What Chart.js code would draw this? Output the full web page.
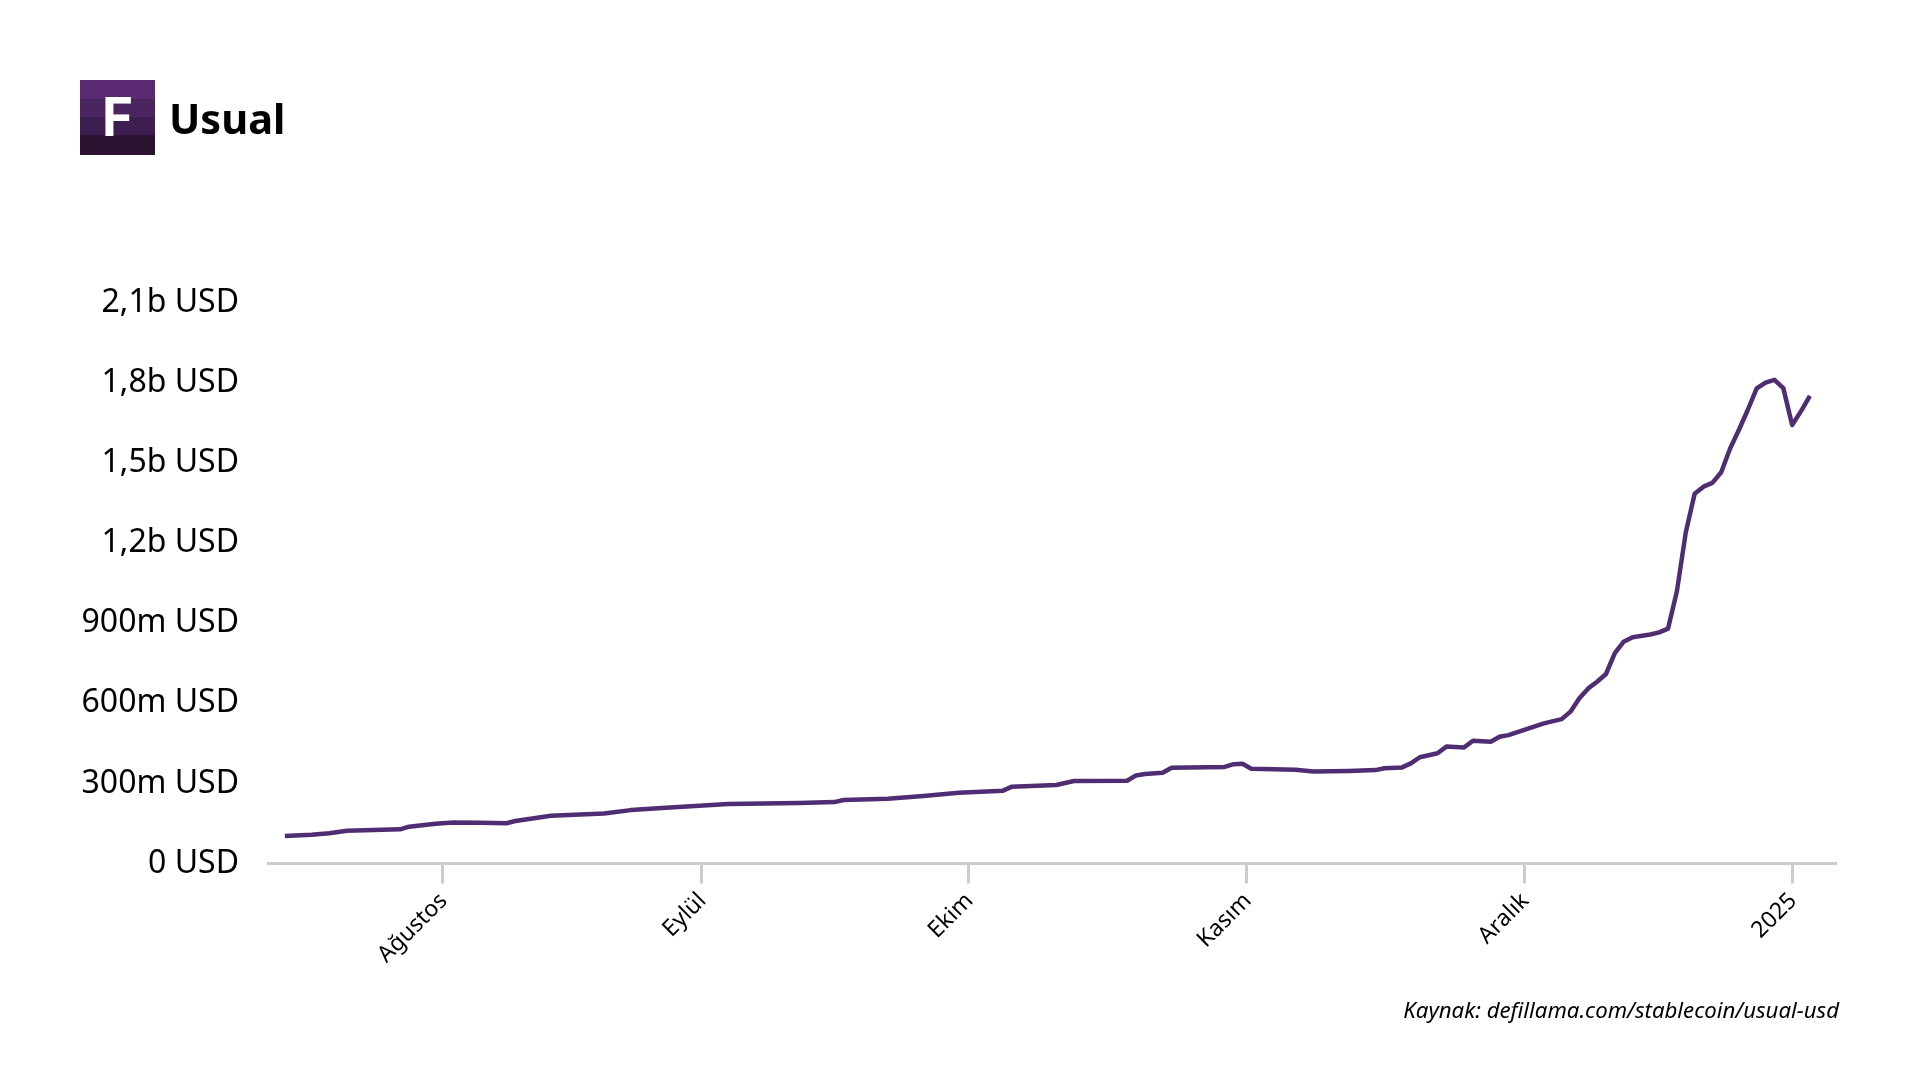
<!DOCTYPE html>
<html>
<head>
<meta charset="utf-8">
<script src="https://cdn.jsdelivr.net/npm/chart.js@4"></script>
<style>
  html, body { margin: 0; background: #fff; font-family: "Noto Sans", sans-serif; color: #000; }
  #wrap { position: relative; width: 1920px; height: 1080px; overflow: hidden; }
  #logo { position: absolute; left: 80px; top: 80px; width: 75px; height: 75px; color: #fff; font-family: Inter, sans-serif; font-weight: 700; font-size: 53px; line-height: 75px; text-align: center;
    background: linear-gradient(#5a2a73 0 25%, #4a2560 25% 49%, #3d1e50 49% 73%, #2d1332 73% 100%); }
  #title { position: absolute; left: 169px; top: 88px; font-size: 41.5px; font-weight: 700; line-height: 60px; }
  #source { position: absolute; right: 81px; top: 996px; font-size: 22.2px; font-style: italic; line-height: 28px; }
</style>
</head>
<body>
<div id="wrap">
  <canvas id="usual-chart" width="1920" height="1080" style="position:absolute;left:0;top:0"></canvas>
  <div id="logo">F</div>
  <div id="title">Usual</div>
  <div id="source">Kaynak: defillama.com/stablecoin/usual-usd</div>
</div>
<script>
// x position of each reading, in days from the first point
const days = [0,3,5,7,13,14,17,19,22,25,26,30,36,39,43,50,58,62,63,68,72,76,81,82,87,89,95,96,97,99,100,106,107,108,109,114,116,120,123,124,126,127,128,130,131,133,134,136,137,138,142,144,145,146,147,148,149,150,151,152,154,155,156,157,158,159,160,161,162,163,164,165,166,167,168,169,170,171,172]
// market cap in million USD
const usd_values = [103,108,113,123,128,138,149,154,153,151,159,179,187,200,209,223,227,230,238,243,253,265,273,288,294,309,310,330,335,340,359,362,372,374,355,351,345,347,350,357,360,375,398,413,438,435,460,456,475,481,525,541,569,619,656,681,710,788,831,848,858,866,880,1020,1240,1385,1412,1426,1466,1555,1625,1700,1780,1802,1812,1781,1643,1695,1752]

const tick_positions = [17.8,47,77.1,108.5,139.8,170]
const tick_labels = ["Ağustos","Eylül","Ekim","Kasım","Aralık","2025"]
const y_ticks = [0,300,600,900,1200,1500,1800,2100]
const y_labels = ["0 USD","300m USD","600m USD","900m USD","1,2b USD","1,5b USD","1,8b USD","2,1b USD"]

let points = []
for (let i = 0; i < days.length; i++) {
  points.push({x: days[i], y: usd_values[i]})
}

new Chart(document.getElementById("usual-chart"), {
  type: 'line',
  data: {
    datasets: [{
      data: points,
      borderColor: "#4f2d73",
      borderWidth: 4.5,
      borderJoinStyle: "round",
      pointRadius: 0,
      tension: 0,
      fill: false
    }]
  },
  options: {
    responsive: false,
    animation: false,
    layout: { padding: { top: 303, right: 83.5 } },
    plugins: { legend: { display: false }, tooltip: { enabled: false } },
    scales: {
      x: {
        type: 'linear',
        min: -1.9,
        max: 175,
        afterBuildTicks: function (axis) {
          axis.ticks = tick_positions.map(v => ({value: v}))
        },
        afterFit: function (axis) { axis.height = 216.5 },
        grid: { drawOnChartArea: false, color: "#cccccc", tickColor: "#cccccc", tickWidth: 3, tickLength: 20 },
        border: { color: "#cccccc", width: 3 },
        ticks: {
          color: "#000",
          autoSkip: false,
          minRotation: 45,
          maxRotation: 45,
          padding: 4,
          labelOffset: 1,
          font: { family: "Noto Sans", size: 23 },
          callback: function (value, index) { return tick_labels[index] }
        }
      },
      y: {
        min: 0,
        max: 2100,
        afterBuildTicks: function (axis) {
          axis.ticks = y_ticks.map(v => ({value: v}))
        },
        afterFit: function (axis) { axis.width = 268 },
        grid: { display: false },
        border: { display: false },
        ticks: {
          color: "#000",
          padding: 21,
          font: { family: "Noto Sans", size: 32 },
          callback: function (value, index) { return y_labels[index] }
        }
      }
    }
  }
});
</script>
</body>
</html>
